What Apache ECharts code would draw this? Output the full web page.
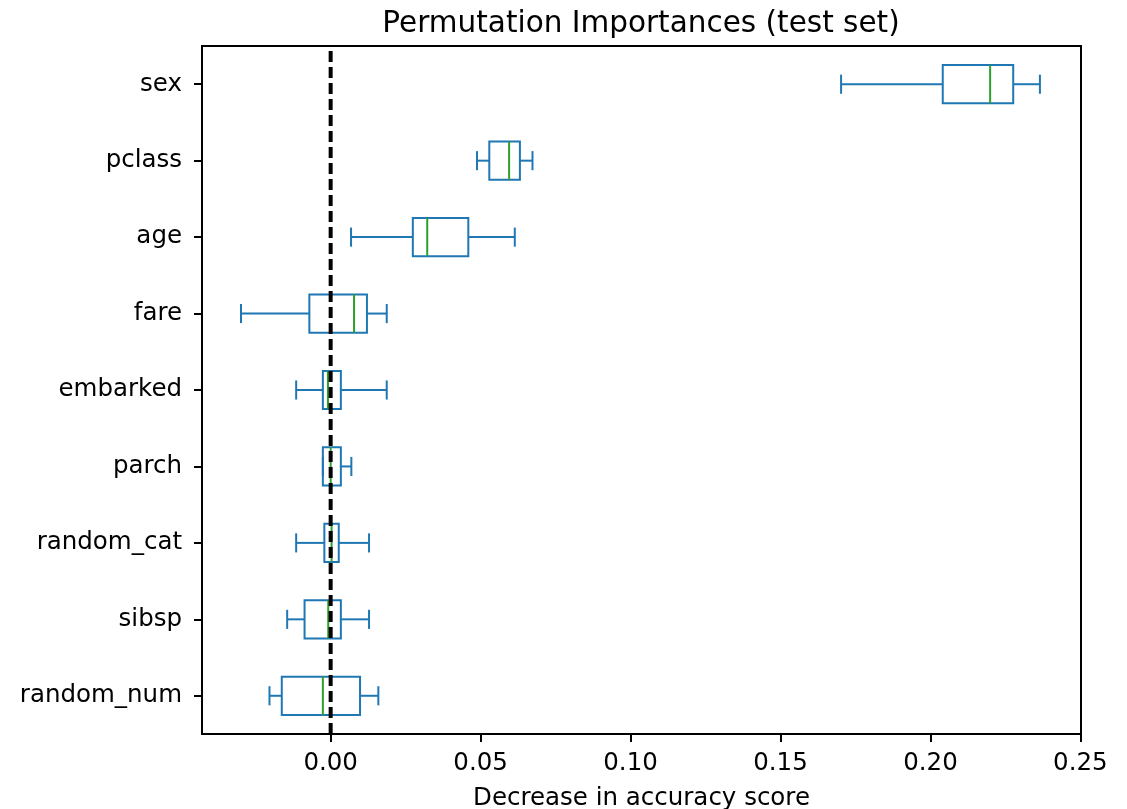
<!DOCTYPE html>
<html><head><meta charset="utf-8">
<script src="https://cdn.jsdelivr.net/npm/echarts@6/dist/echarts.min.js"></script>
<style>html,body{margin:0;padding:0;background:#fff}#c{width:1127px;height:809px}</style>
</head><body><div id="c"></div>
<script>
const categories = ['sex','pclass','age','fare','embarked','parch','random_cat','sibsp','random_num'];
const whiskerLow  = [0.1702, 0.0488, 0.0068, -0.0299, -0.0115, -0.0026, -0.0115, -0.0145, -0.0204];
const quartile1   = [0.2041, 0.0529, 0.0274, -0.0071, -0.0026, -0.0026, -0.0021, -0.0087, -0.0163];
const medians     = [0.2199, 0.0595, 0.0322,  0.0078, -0.0009,  0.0000,  0.0003, -0.0008, -0.0026];
const quartile3   = [0.2276, 0.0631, 0.0459,  0.0121,  0.0034,  0.0034,  0.0027,  0.0034,  0.0098];
const whiskerHigh = [0.2365, 0.0673, 0.0614,  0.0187,  0.0187,  0.0069,  0.0128,  0.0128,  0.0159];
const xTickValues = [0, 0.05, 0.10, 0.15, 0.20, 0.25];
const referenceLine = [0];

const boxData = categories.map((c, i) => [i, whiskerLow[i], quartile1[i], medians[i], quartile3[i], whiskerHigh[i]]);

const BLUE = '#1f77b4', GREEN = '#2ca02c';
function renderBox(params, api) {
  const idx = api.value(0);
  const lo = api.coord([api.value(1), idx]);
  const q1 = api.coord([api.value(2), idx]);
  const md = api.coord([api.value(3), idx]);
  const q3 = api.coord([api.value(4), idx]);
  const hi = api.coord([api.value(5), idx]);
  const band = api.size([0, 1])[1];
  const bh = band * 0.25, ch = band * 0.125, cy = lo[1];
  const s = { stroke: BLUE, lineWidth: 2, fill: null };
  const children = [
    { type: 'line', shape: { x1: lo[0], y1: cy, x2: q1[0], y2: cy }, style: s },
    { type: 'line', shape: { x1: q3[0], y1: cy, x2: hi[0], y2: cy }, style: s },
    { type: 'line', shape: { x1: lo[0], y1: cy - ch, x2: lo[0], y2: cy + ch }, style: s },
    { type: 'line', shape: { x1: hi[0], y1: cy - ch, x2: hi[0], y2: cy + ch }, style: s },
    { type: 'rect', shape: { x: q1[0], y: cy - bh, width: q3[0] - q1[0], height: 2 * bh }, style: s },
    { type: 'line', shape: { x1: md[0], y1: cy - bh, x2: md[0], y2: cy + bh }, style: { stroke: GREEN, lineWidth: 2 } }
  ];
  return { type: 'group', children };
}
function renderRef(params, api) {
  const p = api.coord([api.value(0), 0]);
  const cs = params.coordSys;
  return { type: 'line', shape: { x1: p[0], y1: cs.y + cs.height, x2: p[0], y2: cs.y },
           style: { stroke: '#000', lineWidth: 4, lineDash: [11, 5] } };
}

const chart = echarts.init(document.getElementById('c'));
const FONT = 'DejaVu Sans';
chart.setOption({
  animation: false,
  backgroundColor: '#fff',
  textStyle: { fontFamily: FONT },
  title: {
    text: 'Permutation Importances (test set)',
    left: 636, top: 4, textAlign: 'center',
    textStyle: { fontFamily: FONT, fontSize: 29.5, fontWeight: 'normal', color: '#000' }
  },
  grid: { left: 202, right: 46, top: 46, bottom: 75, show: true, borderColor: '#000', borderWidth: 2,
          containLabel: false, outerBoundsMode: 'none' },
  xAxis: {
    type: 'value', min: -0.0429, max: 0.2502,
    splitLine: { show: false },
    axisLine: { show: true, onZero: false, lineStyle: { color: '#000', width: 2 } },
    axisTick: { show: true, length: 8, lineStyle: { color: '#000', width: 2 }, customValues: xTickValues },
    axisLabel: { fontFamily: FONT, fontSize: 24.5, color: '#000', margin: 17, customValues: xTickValues,
                 formatter: v => v.toFixed(2) },
    name: 'Decrease in accuracy score', nameLocation: 'middle', nameGap: 52,
    nameTextStyle: { fontFamily: FONT, fontSize: 24.5, color: '#000' }
  },
  yAxis: {
    type: 'category', data: categories, inverse: true,
    splitLine: { show: false },
    axisLine: { show: true, onZero: false, lineStyle: { color: '#000', width: 2 } },
    axisTick: { show: true, alignWithLabel: true, length: 8, lineStyle: { color: '#000', width: 2 } },
    axisLabel: { fontFamily: FONT, fontSize: 24.5, color: '#000', margin: 20 }
  },
  series: [
    { type: 'custom', renderItem: renderBox, data: boxData, encode: { x: [1, 2, 3, 4, 5], y: 0 }, z: 2 },
    { type: 'custom', renderItem: renderRef, data: referenceLine.map(v => [v, 0]), encode: { x: 0, y: 1 }, z: 5 }
  ]
});
</script></body></html>
